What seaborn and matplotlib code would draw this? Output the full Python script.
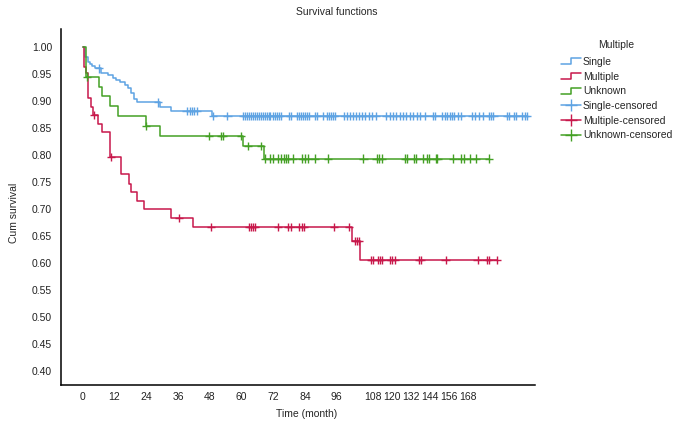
import numpy as np
import pandas as pd
import matplotlib.pyplot as plt
import seaborn as sns
from matplotlib.legend_handler import HandlerBase
from matplotlib.lines import Line2D

# --- Data (months, cumulative survival) ---
groups = ["Single", "Multiple", "Unknown"]

single_t = [0, 1.0, 2.0, 2.8, 3.6, 4.6, 6.9, 9.7, 11.3, 12.5, 14.1, 16.0, 17.2,
            18.1, 19.3, 20.4, 29.2, 33.4, 48.7]
single_s = [1.0, 0.982, 0.973, 0.969, 0.965, 0.961, 0.953, 0.949, 0.944, 0.940,
            0.935, 0.930, 0.924, 0.915, 0.904, 0.898, 0.890, 0.882, 0.873]
single_cens = [6.2, 28.4, 39.3, 40.6, 41.4, 42.2, 43.1, 49.2, 54.7, 60.5, 61.3,
               62.0, 62.8, 63.5, 64.3, 65.0, 65.8, 66.5, 67.3, 68.0, 68.8, 69.5,
               70.3, 71.0, 71.8, 72.6, 73.3, 74.1, 74.8, 77.9, 78.6, 80.9, 81.7,
               82.4, 83.2, 83.9, 84.7, 85.4, 87.7, 88.4, 90.9, 92.4, 93.2, 93.9,
               94.7, 95.5, 98.8, 99.9, 101.1, 102.3, 103.4, 104.6, 105.7, 106.9,
               108.1, 109.5, 110.7, 114.7, 116.0, 117.3, 118.5, 119.8, 121.1,
               122.4, 123.7, 124.9, 126.2, 127.5, 129.4, 132.4, 133.3, 135.9,
               136.8, 137.8, 138.7, 139.6, 140.5, 141.8, 143.0, 147.3, 148.3,
               149.9, 151.5, 153.5, 154.4, 155.3, 160.3, 161.3, 162.9, 163.8,
               166.0, 167.1, 168.0]

multiple_t = [0, 0.5, 1.3, 2.0, 3.0, 3.8, 5.9, 7.2, 10.3, 14.4, 17.5, 18.3, 20.4,
              23.3, 33.4, 41.6, 102.0, 104.9]
multiple_s = [1.0, 0.963, 0.952, 0.906, 0.890, 0.875, 0.858, 0.843, 0.797, 0.765,
              0.748, 0.733, 0.716, 0.700, 0.684, 0.668, 0.641, 0.607]
multiple_cens = [4.2, 10.8, 36.4, 48.5, 62.9, 63.6, 64.5, 65.2, 73.9, 77.7, 78.6,
                 81.9, 82.8, 83.6, 95.0, 100.8, 102.9, 103.8, 104.5, 109.0, 109.6,
                 111.5, 112.4, 113.0, 116.1, 116.8, 118.0, 127.2, 127.9, 137.2,
                 149.3, 152.7, 153.6, 156.7]

unknown_t = [0, 1.1, 6.3, 7.2, 10.3, 13.5, 23.8, 29.2, 60.5, 68.6]
unknown_s = [1.0, 0.946, 0.927, 0.910, 0.891, 0.873, 0.855, 0.836, 0.817, 0.794]
unknown_cens = [1.7, 24.0, 47.7, 52.4, 53.1, 59.8, 62.6, 67.3, 68.9, 71.0, 72.0,
                73.9, 74.8, 76.1, 76.8, 77.7, 79.6, 82.8, 84.0, 85.0, 87.8, 92.8,
                106.1, 111.1, 112.0, 113.0, 121.8, 122.6, 125.2, 126.0, 128.7,
                130.2, 131.0, 133.5, 134.1, 140.1, 143.0, 144.2, 146.6, 148.6,
                153.7]

xtick_pos = [0, 12, 24, 36, 48, 60, 72, 84, 96, 109.6, 116.8, 124.0, 131.2, 138.4, 145.6]
xtick_labels = ["0", "12", "24", "36", "48", "60", "72", "84", "96",
                "108", "120", "132", "144", "156", "168"]
yticks = [0.40, 0.45, 0.50, 0.55, 0.60, 0.65, 0.70, 0.75, 0.80, 0.85, 0.90, 0.95, 1.00]

colors = {"Single": "#5ea3e3", "Multiple": "#c8184b", "Unknown": "#44a024"}

# --- Build tables ---
curves = {"Single": (single_t, single_s, single_cens),
          "Multiple": (multiple_t, multiple_s, multiple_cens),
          "Unknown": (unknown_t, unknown_s, unknown_cens)}

line_rows, cens_rows = [], []
for g in groups:
    t, s, c = curves[g]
    t_all = list(t) + [max(c)]
    s_all = list(s) + [s[-1]]
    for ti, si in zip(t_all, s_all):
        line_rows.append((g, ti, si))
    t_arr = np.array(t)
    idx = np.searchsorted(t_arr, c, side="right") - 1
    for ci, si in zip(c, np.array(s)[idx]):
        cens_rows.append((g, ci, si))
lines = pd.DataFrame(line_rows, columns=["group", "time", "surv"])
cens = pd.DataFrame(cens_rows, columns=["group", "time", "surv"])

# --- Plot ---
sns.set_style("white")
plt.rcParams["font.family"] = ["Liberation Sans", "DejaVu Sans"]

W, H = 679, 423
fig = plt.figure(figsize=(W / 100, H / 100), dpi=100)
ax = fig.add_axes([61 / W, 1 - 385 / H, (535 - 61) / W, (385 - 29) / H])

sns.lineplot(data=lines, x="time", y="surv", hue="group", palette=colors,
             drawstyle="steps-post", estimator=None, lw=1.1, legend=False, ax=ax)
sns.scatterplot(data=cens, x="time", y="surv", hue="group", palette=colors,
                marker="+", s=36, linewidth=1.0, legend=False, ax=ax, zorder=3)

ax.set_xlim(-8.2, 171)
ax.set_ylim(0.375, 1.034)
ax.set_xticks(xtick_pos)
ax.set_xticklabels(xtick_labels)
ax.set_yticks(yticks)
ax.set_yticklabels([f"{v:.2f}" for v in yticks])
ax.tick_params(length=0, labelsize=7.5, colors="#222222")
ax.tick_params(axis="y", pad=6.5)
ax.tick_params(axis="x", pad=5)
ax.set_xlabel("")
ax.set_ylabel("")
sns.despine(ax=ax)
for sp in ["left", "bottom"]:
    ax.spines[sp].set_color("black")
    ax.spines[sp].set_linewidth(1.1)

fig.text(337 / W, 1 - 12 / H, "Survival functions", ha="center", va="center", fontsize=7.5)
fig.text(307 / W, 1 - 414 / H, "Time (month)", ha="center", va="center", fontsize=7.5)
fig.text(14 / W, 1 - 213 / H, "Cum survival", ha="center", va="center",
         rotation=90, fontsize=7.5)


class StepHandler(HandlerBase):
    def create_artists(self, legend, orig_handle, xdescent, ydescent,
                       width, height, fontsize, trans):
        x0, y0 = -xdescent, -ydescent
        xm = x0 + 0.5 * width
        ln = Line2D([x0, xm, xm, x0 + width],
                    [y0 + 0.1 * height, y0 + 0.1 * height, y0 + 0.9 * height, y0 + 0.9 * height],
                    color=orig_handle.get_color(), lw=1.1, transform=trans)
        return [ln]


step_handles = [Line2D([], [], color=colors[g]) for g in groups]
cens_handles = [Line2D([], [], color=colors[g], lw=1.1, marker="+", markersize=8,
                       markeredgewidth=1.0) for g in groups]
handles = step_handles + cens_handles
labels = groups + [g + "-censored" for g in groups]
handler_map = {h: StepHandler() for h in step_handles}
fig.legend(handles, labels, handler_map=handler_map, title="Multiple",
           loc="upper left", bbox_to_anchor=(561 / W, 1 - 40 / H), frameon=False,
           fontsize=7.5, title_fontsize=7.5, handlelength=1.9, handletextpad=0.2,
           labelspacing=0.45, borderaxespad=0, borderpad=0)
fig.legends[0]._legend_box.sep = 5

fig.savefig("out.png", dpi=100)
